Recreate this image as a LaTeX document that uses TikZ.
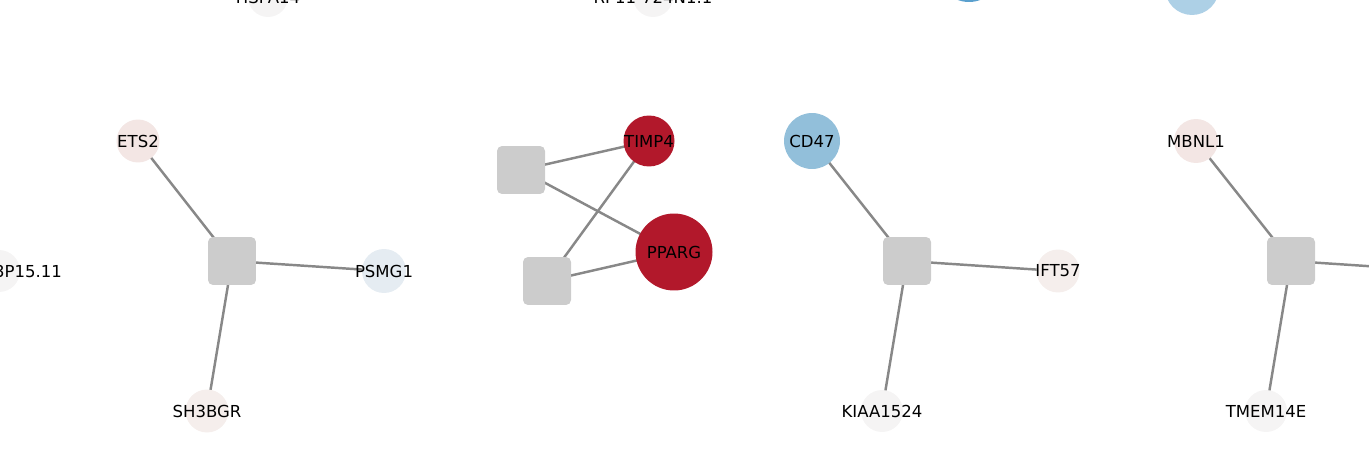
\documentclass[tikz,border=0pt]{standalone}
\usepackage{fontspec}
\setmainfont{DejaVu Sans}
\usetikzlibrary{positioning}
\usetikzlibrary{backgrounds}
\newcommand*{\genefont}{\fontsize{9.4pt}{11pt}\selectfont}
\definecolor{hubgray}{HTML}{CCCCCC}
\definecolor{linkgray}{HTML}{888888}
\definecolor{upred}{HTML}{B2182B}
\definecolor{downblue}{HTML}{5AA0CE}
\definecolor{midblue}{HTML}{92BFDA}
\definecolor{paleblue}{HTML}{ADD0E6}
\definecolor{pink}{HTML}{F3E6E4}
\definecolor{rose}{HTML}{F5EEEC}
\definecolor{mist}{HTML}{E5ECF2}
\definecolor{neutral}{HTML}{F5F4F4}
\tikzset{
    gene/.style = {circle,inner sep=0,draw=none},
    hub/.style = {rectangle,rounded corners=0.1cm,fill=hubgray,minimum size=0.96cm,inner sep=0},
    link/.style = {draw=linkgray,line width=1.4pt}
}

\begin{document}
\begin{tikzpicture}[x=0.02cm,y=-0.02cm,font=\genefont]
    \useasboundingbox (0,0) rectangle (1369,463);
    \clip (0,0) rectangle (1369,463);
    % Cut-off genes
    \node[gene,fill=neutral,minimum size=0.8cm,label={center:HSPA14}] (hspa) at (268,-3) {};
    \node[gene,fill=neutral,minimum size=0.8cm,label={center:RP11-724N1.1}] (rp) at (653,-3) {};
    \node[gene,fill=downblue,minimum size=1.28cm] (blue) at (969,-30) {};
    \node[gene,fill=paleblue,minimum size=1.08cm] (pale) at (1192,-12) {};
    \node[gene,fill=neutral,minimum size=0.84cm,label={[xshift=0.58cm]center:3P15.11}] (p15) at (-1,271) {};
    % Panel 1
    \node[hub] (h1) at (232,261) {};
    \node[gene,fill=pink,minimum size=0.86cm,label={center:ETS2}] (ets) at (138,141) {};
    \node[gene,fill=mist,minimum size=0.88cm,label={center:PSMG1}] (psmg) at (384,271) {};
    \node[gene,fill=rose,minimum size=0.86cm,label={center:SH3BGR}] (sh3) at (207,411) {};
    % Panel 2
    \node[hub] (h2) at (521,170) {};
    \node[hub] (h3) at (547,281) {};
    \node[gene,fill=upred,minimum size=1.02cm,label={center:TIMP4}] (timp) at (649,141) {};
    \node[gene,fill=upred,minimum size=1.54cm,label={center:PPARG}] (pparg) at (674,252) {};
    % Panel 3
    \node[hub] (h4) at (907,261) {};
    \node[gene,fill=midblue,minimum size=1.12cm,label={center:CD47}] (cd) at (812,141) {};
    \node[gene,fill=rose,minimum size=0.86cm,label={center:IFT57}] (ift) at (1058,271) {};
    \node[gene,fill=neutral,minimum size=0.84cm,label={center:KIAA1524}] (kiaa) at (882,411) {};
    % Panel 4
    \node[hub] (h5) at (1291,261) {};
    \node[gene,fill=pink,minimum size=0.88cm,label={center:MBNL1}] (mbnl) at (1196,141) {};
    \node[gene,fill=neutral,minimum size=0.84cm,label={center:TMEM14E}] (tmem) at (1266,411) {};
    \coordinate (away) at (1442,271);
    % Links
    \begin{pgfonlayer}{background}
        \foreach \src/\dest in {h1/ets,h1/psmg,h1/sh3,h2/timp,h2/pparg,h3/timp,h3/pparg,h4/cd,h4/ift,h4/kiaa,h5/mbnl,h5/tmem,h5/away}
            \draw[link] (\src.center) -- (\dest.center);
    \end{pgfonlayer}
\end{tikzpicture}
\end{document}
